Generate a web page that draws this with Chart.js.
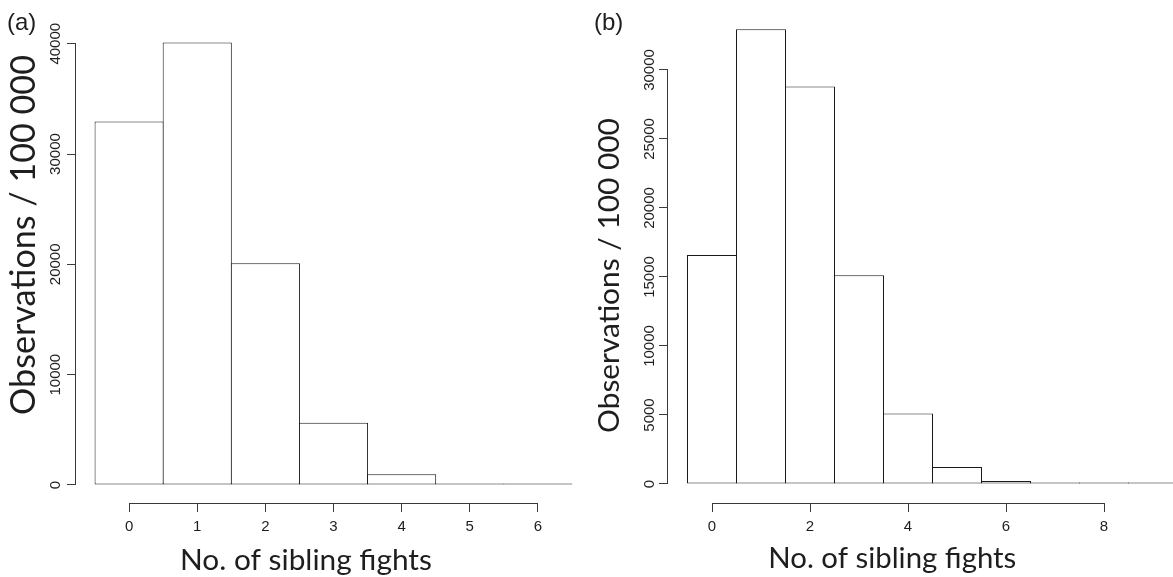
<!DOCTYPE html>
<html><head><meta charset="utf-8">
<script src="https://cdn.jsdelivr.net/npm/chart.js@4.4.1/dist/chart.umd.min.js"></script>
<style>
html,body{margin:0;padding:0;background:#fff;overflow:hidden;}
#wrap{position:relative;width:1173px;height:577px;background:#fff;}
canvas{position:absolute;top:0;}
#ca{left:0px;} #cb{left:590px;}
</style></head><body>
<div id="wrap"><canvas id="ca" width="600" height="577"></canvas><canvas id="cb" width="583" height="577"></canvas></div>
<script>
// ---- data ----
const fightsA = [0, 1, 2, 3, 4, 5, 6];
const obsA = [32950, 40100, 20100, 5640, 970, 130, 30];
const xTicksA = [0, 1, 2, 3, 4, 5, 6];
const yTicksA = [0, 10000, 20000, 30000, 40000];

const fightsB = [0, 1, 2, 3, 4, 5, 6, 7, 8, 9];
const obsB = [16590, 32950, 28800, 15120, 5110, 1230, 220, 45, 8, 2];
const xTicksB = [0, 2, 4, 6, 8];
const yTicksB = [0, 5000, 10000, 15000, 20000, 25000, 30000];

const panelLabels = ['(a)', '(b)'];
const xTitle = 'No. of sibling fights';
const yTitle = 'Observations / 100 000';

const INK = '#1e1e1e';
const AXIS = '#3a3a3a';
const TICKFONT = {family: '"Liberation Sans", Arial, sans-serif', size: 15};
const TITLEFAMILY = 'Lato, "Open Sans", sans-serif';

function fitSize(ctx, text, family, target) {
  ctx.font = '100px ' + family;
  return 100 * target / ctx.measureText(text).width;
}

function makeChart(id, cats, vals, xt, yt, L) {
  const deco = {
    id: 'deco',
    afterDraw(chart) {
      const ctx = chart.ctx, xs = chart.scales.x, ys = chart.scales.y;
      ctx.save();
      ctx.strokeStyle = AXIS; ctx.lineWidth = 1;
      const yl = Math.round(xs.top) + 0.5;
      ctx.beginPath();
      ctx.moveTo(xs.getPixelForValue(xt[0]), yl);
      ctx.lineTo(xs.getPixelForValue(xt[xt.length - 1]), yl);
      ctx.stroke();
      const xl = Math.round(ys.right) - 0.5;
      ctx.beginPath();
      ctx.moveTo(xl, ys.getPixelForValue(yt[0]));
      ctx.lineTo(xl, ys.getPixelForValue(yt[yt.length - 1]));
      ctx.stroke();

      ctx.fillStyle = INK;
      ctx.font = '24px "Liberation Sans", Arial, sans-serif';
      ctx.textAlign = 'left'; ctx.textBaseline = 'alphabetic';
      ctx.fillText(L.panel, L.px, L.py);
      let s = fitSize(ctx, xTitle, TITLEFAMILY, L.xw);
      ctx.font = s.toFixed(2) + 'px ' + TITLEFAMILY;
      ctx.textAlign = 'left';
      ctx.fillText(xTitle, L.xx, L.xy);
      s = fitSize(ctx, yTitle, TITLEFAMILY, L.yw);
      ctx.font = s.toFixed(2) + 'px ' + TITLEFAMILY;
      ctx.translate(L.yx, L.yy);
      ctx.rotate(-Math.PI / 2);
      ctx.textAlign = 'center';
      ctx.fillText(yTitle, 0, 0);
      ctx.restore();
    }
  };

  return new Chart(document.getElementById(id), {
    type: 'bar',
    data: {
      datasets: [{
        data: cats.map((c, i) => ({x: c, y: vals[i]})),
        backgroundColor: '#ffffff',
        borderColor: '#1a1a1a',
        borderWidth: 1,
        borderSkipped: false,
        minBarLength: 1.6,
        barPercentage: L.barPct,
        categoryPercentage: 1
      }]
    },
    options: {
      responsive: false,
      animation: false,
      events: [],
      layout: {padding: L.pad},
      plugins: {legend: {display: false}, tooltip: {enabled: false}, title: {display: false}},
      scales: {
        x: {
          type: 'linear',
          offset: false,
          min: L.xmin, max: L.xmax,
          afterBuildTicks: s => { s.ticks = xt.map(v => ({value: v})); },
          afterFit: s => { s.height = L.xh; },
          grid: {display: true, offset: false, drawOnChartArea: false, drawTicks: true, tickLength: 9, color: AXIS, lineWidth: 1},
          border: {display: false},
          ticks: {font: TICKFONT, color: INK, padding: 6, maxRotation: 0, autoSkip: false,
                  callback: v => String(v)}
        },
        y: {
          type: 'linear',
          min: L.ymin, max: L.ymax,
          afterBuildTicks: s => { s.ticks = yt.map(v => ({value: v})); },
          afterFit: s => { s.width = L.yaw; },
          grid: {display: true, drawOnChartArea: false, drawTicks: true, tickLength: 9, color: AXIS, lineWidth: 1},
          border: {display: false},
          ticks: {font: TICKFONT, color: INK, padding: L.ypad, minRotation: 90, maxRotation: 90,
                  crossAlign: 'center', autoSkip: false, callback: v => String(v)}
        }
      }
    },
    plugins: [deco]
  });
}

makeChart('ca', fightsA, obsA, xTicksA, yTicksA, {
  panel: panelLabels[0], px: 7, py: 30,
  xx: 180, xy: 570, xw: 252,
  yx: 35, yy: 235, yw: 360,
  pad: {left: 0, top: 24, right: 9, bottom: 0},
  xh: 74, yaw: 76, ypad: -10,
  xmin: -0.78, xmax: 6.78, ymin: -1632, ymax: 41788,
  barPct: 69 / 68
});

makeChart('cb', fightsB, obsB, xTicksB, yTicksB, {
  panel: panelLabels[1], px: 4, py: 30,
  xx: 178.3, xy: 568.3, xw: 248,
  yx: 28.5, yy: 275.5, yw: 315,
  pad: {left: 0, top: 11, right: 0, bottom: 0},
  xh: 74, yaw: 78, ypad: -11.3,
  xmin: -0.898, xmax: 9.408, ymin: -1377, ymax: 34275,
  barPct: 50 / 49
});
</script>
</body></html>
